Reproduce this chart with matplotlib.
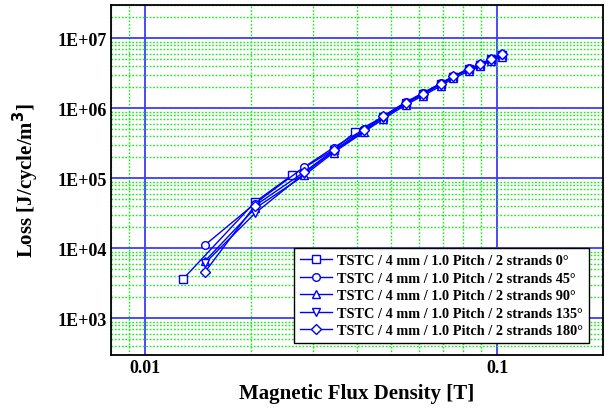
import matplotlib
matplotlib.use("Agg")
import matplotlib.pyplot as plt
from matplotlib.ticker import LogLocator, NullFormatter, FixedLocator

# flux density [T]
b_sq = [0.0128, 0.0205, 0.0262, 0.0343, 0.0395, 0.0475, 0.0550,
        0.0615, 0.0692, 0.0751, 0.0832, 0.0895, 0.0960, 0.1030]
b_other = [0.0148, 0.0205, 0.0283, 0.0343, 0.0418, 0.0475, 0.0550,
           0.0615, 0.0692, 0.0751, 0.0832, 0.0895, 0.0960, 0.1030]

# loss [J/cycle/m3]
loss_0 = [3630, 45700, 112000, 257000, 457000, 759000, 1.20e6,
          1.62e6, 2.24e6, 2.82e6, 3.63e6, 4.17e6, 5.01e6, 5.75e6]
loss_45 = [11200, 43600, 145000, 275000, 501000, 776000, 1.23e6,
           1.66e6, 2.29e6, 2.88e6, 3.72e6, 4.27e6, 5.13e6, 5.89e6]
loss_90 = [6610, 37200, 110000, 234000, 457000, 708000, 1.12e6,
           1.51e6, 2.09e6, 2.69e6, 3.39e6, 3.98e6, 4.79e6, 5.50e6]
loss_135 = [6170, 31600, 117000, 245000, 468000, 741000, 1.17e6,
            1.58e6, 2.19e6, 2.82e6, 3.55e6, 4.17e6, 4.90e6, 5.75e6]
loss_180 = [4620, 40700, 123000, 251000, 490000, 776000, 1.20e6,
            1.62e6, 2.24e6, 2.88e6, 3.63e6, 4.27e6, 5.01e6, 5.89e6]

angles = ["0", "45", "90", "135", "180"]
markers = ["s", "o", "^", "v", "D"]

plt.rcParams["font.family"] = ["Liberation Serif", "DejaVu Serif"]
plt.rcParams["font.weight"] = "bold"

fig = plt.figure(figsize=(6.05, 4.10), dpi=100)
ax = fig.add_axes([0.1835, 0.1317, 0.8132, 0.8537])

series = [(b_sq, loss_0), (b_other, loss_45), (b_other, loss_90),
          (b_other, loss_135), (b_other, loss_180)]
blue = "#0000ff"
for (xs, ys), ang, m in zip(series, angles, markers):
    ms = 5.5 if m != "D" else 5.0
    ax.plot(xs, ys, color=blue, lw=1.0, marker=m, ms=ms,
            mfc="white", mec=blue, mew=1.0,
            label=f"TSTC / 4 mm / 1.0 Pitch / 2 strands {ang}\u00b0")

ax.set_xscale("log")
ax.set_yscale("log")
ax.set_xlim(0.008, 0.2)
ax.set_ylim(300, 3e7)

ax.xaxis.set_major_locator(FixedLocator([0.01, 0.1]))
ax.set_xticklabels(["0.01", "0.1"])
ax.xaxis.set_minor_locator(LogLocator(base=10, subs=range(2, 10)))
ax.xaxis.set_minor_formatter(NullFormatter())

yt = [1e3, 1e4, 1e5, 1e6, 1e7]
ax.yaxis.set_major_locator(FixedLocator(yt))
ax.set_yticklabels(["1E+03", "1E+04", "1E+05", "1E+06", "1E+07"])
ax.yaxis.set_minor_locator(LogLocator(base=10, subs=range(2, 10)))
ax.yaxis.set_minor_formatter(NullFormatter())

ax.grid(which="minor", color="#11ee11", ls=(0, (1.2, 1.3)), lw=1.0)
ax.grid(which="major", color="#3c3cff", ls="-", lw=1.3)
ax.set_axisbelow(True)

ax.tick_params(which="both", length=0)
ax.tick_params(axis="y", pad=3, labelsize=13)
ax.tick_params(axis="x", pad=3, labelsize=13)
for s in ax.spines.values():
    s.set_linewidth(1.3)
    s.set_color("black")

ax.set_xlabel("Magnetic Flux Density [T]", fontsize=15, fontweight="bold",
              labelpad=5)
ax.set_ylabel("Loss [J/cycle/m$^{\\mathbf{3}}$]", fontsize=15,
              fontweight="bold", labelpad=12)

leg = ax.legend(loc="lower right", bbox_to_anchor=(0.9715, 0.034),
                borderaxespad=0, fontsize=10.3, frameon=True,
                fancybox=False, edgecolor="black", framealpha=1,
                handlelength=2.2, labelspacing=0.32, borderpad=0.4,
                handletextpad=0.4)
leg.get_frame().set_linewidth(1.0)

fig.savefig("out.png", dpi=100)
